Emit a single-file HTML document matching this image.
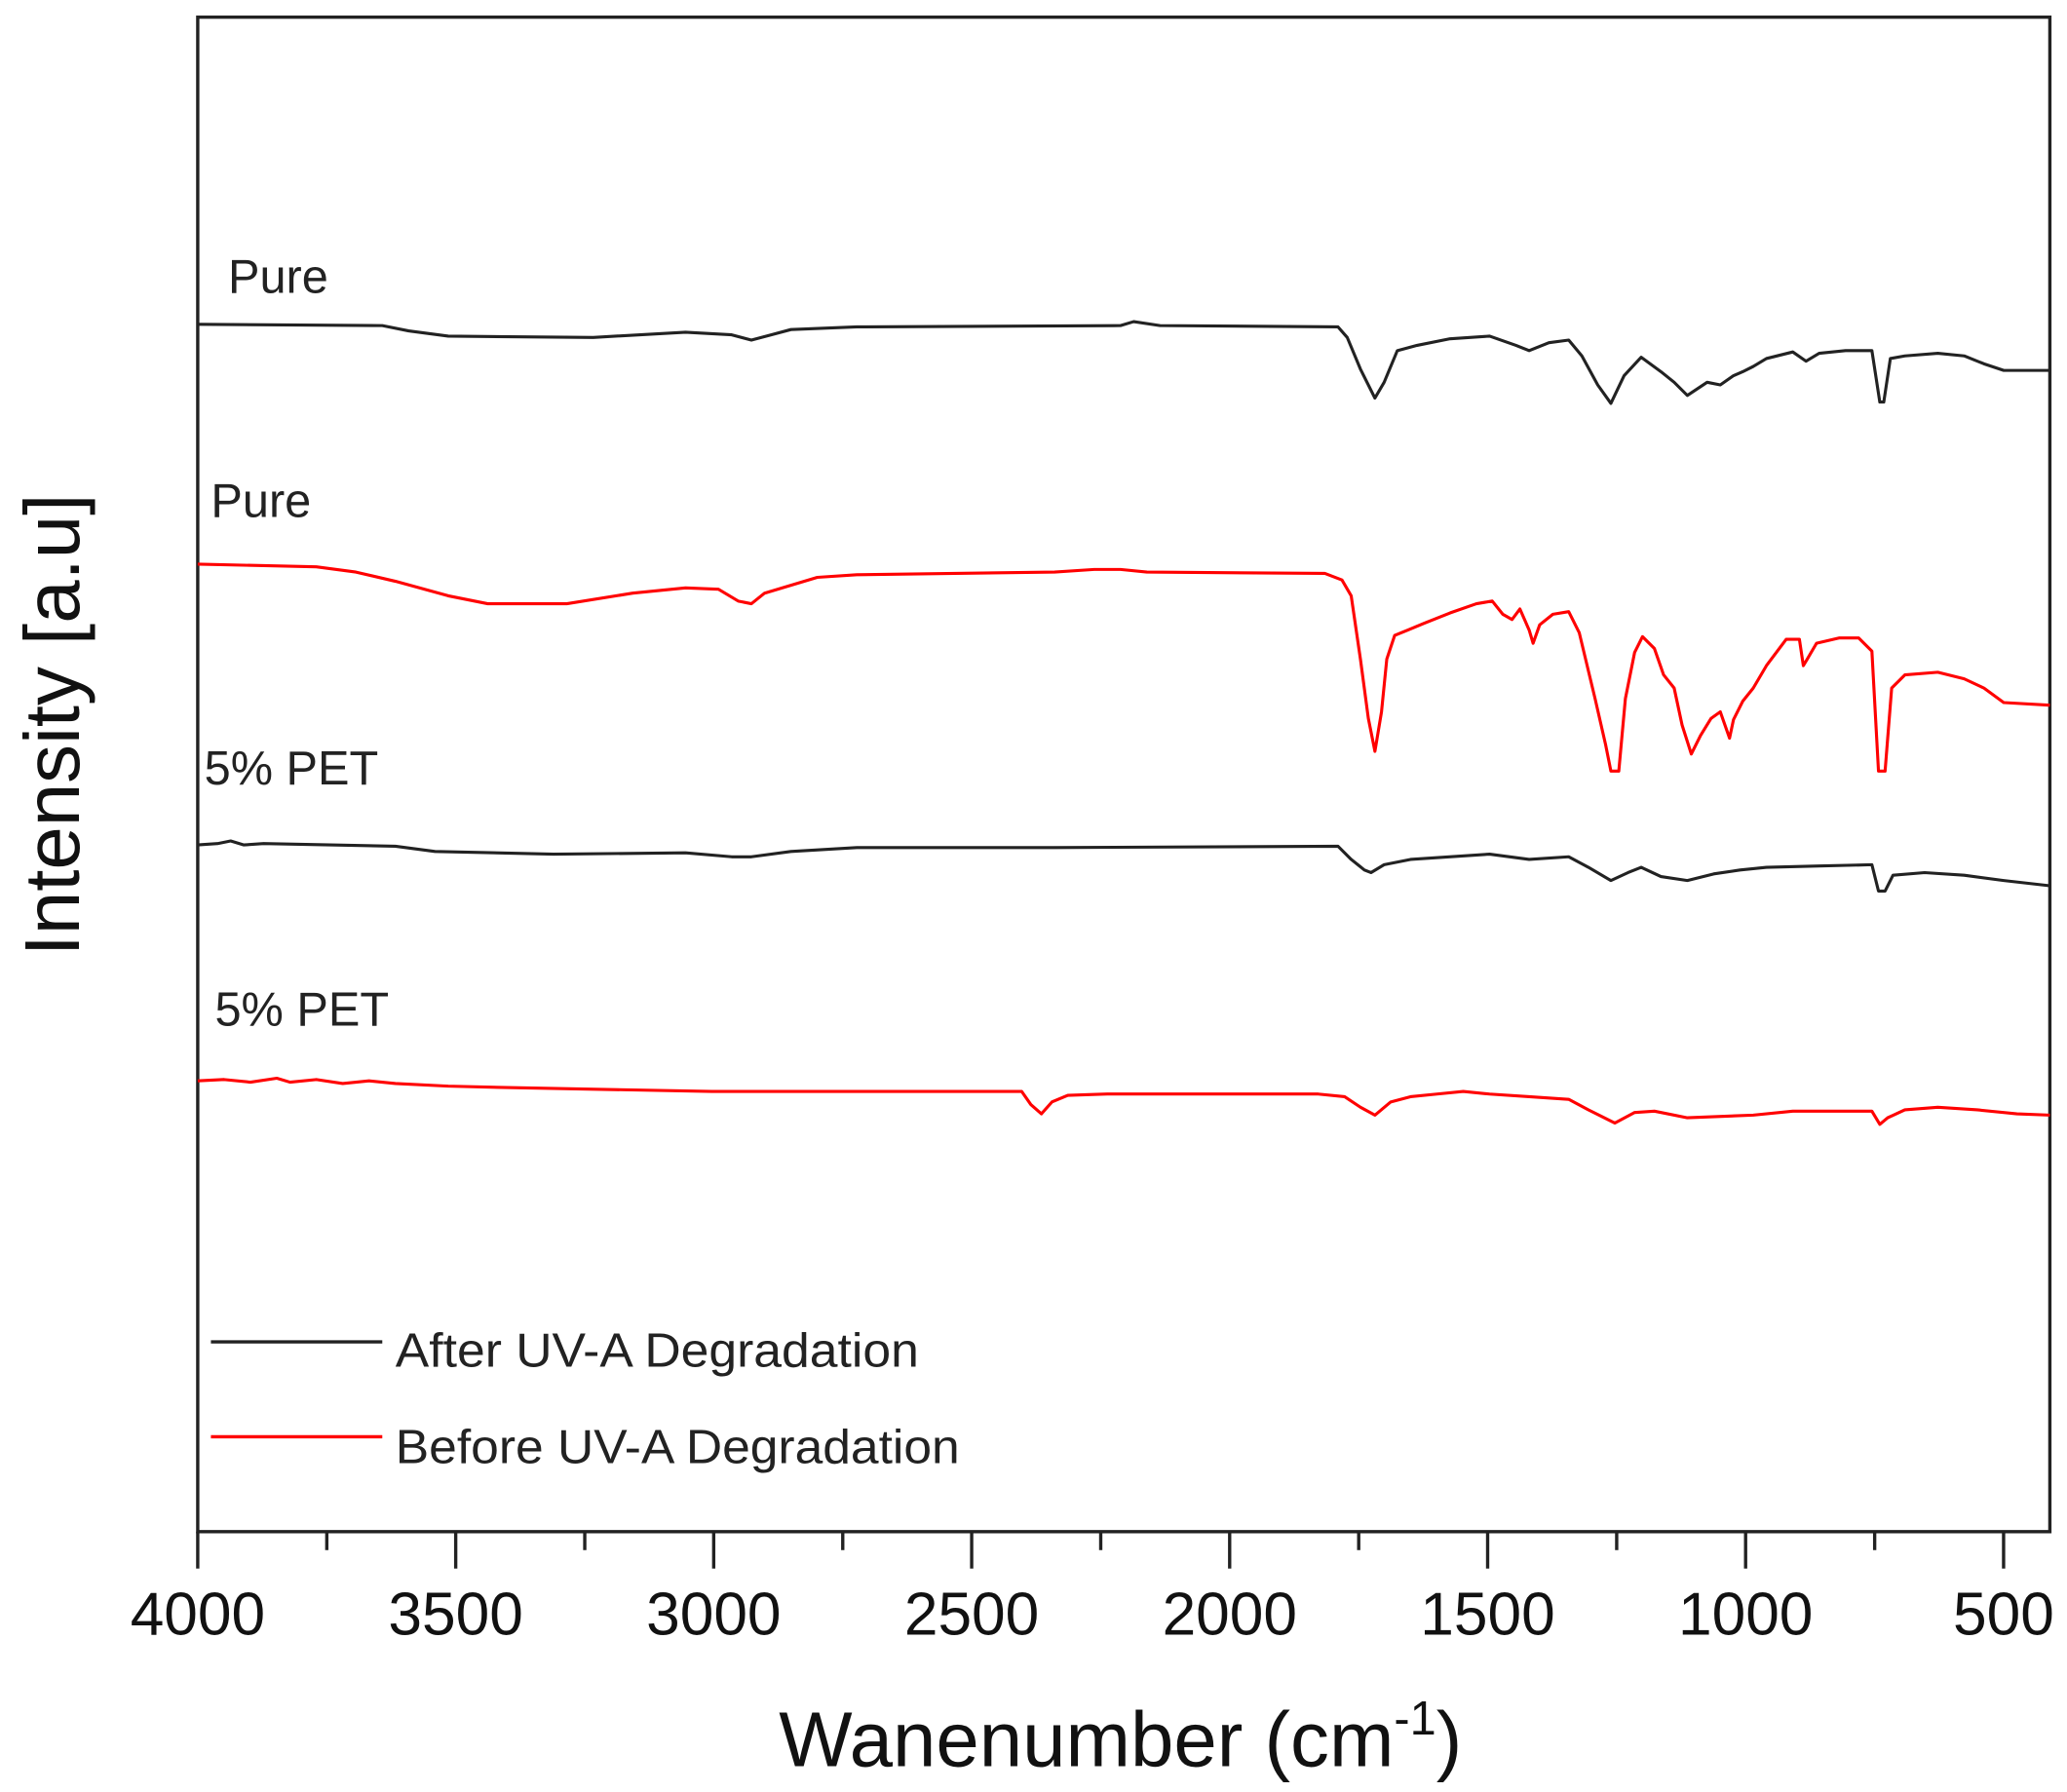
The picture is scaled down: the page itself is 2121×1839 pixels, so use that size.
<!DOCTYPE html>
<html><head><meta charset="utf-8"><style>html,body{margin:0;padding:0;background:#fff}svg{display:block}</style></head>
<body>
<svg width="2121" height="1839" viewBox="0 0 1568 1359.5" xmlns="http://www.w3.org/2000/svg" font-family="Liberation Sans, Arial, sans-serif">
<rect width="1568" height="1360" fill="#fff"/>
<rect x="150" y="13" width="1405" height="1149" fill="none" stroke="#222" stroke-width="2.5"/>
<g stroke="#222" stroke-width="2.5">
<line x1="150" y1="1162" x2="150" y2="1190"/><line x1="345.7" y1="1162" x2="345.7" y2="1190"/><line x1="541.4" y1="1162" x2="541.4" y2="1190"/><line x1="737.1" y1="1162" x2="737.1" y2="1190"/><line x1="932.8" y1="1162" x2="932.8" y2="1190"/><line x1="1128.5" y1="1162" x2="1128.5" y2="1190"/><line x1="1324.2" y1="1162" x2="1324.2" y2="1190"/><line x1="1519.9" y1="1162" x2="1519.9" y2="1190"/>
<line x1="247.9" y1="1162" x2="247.9" y2="1176"/><line x1="443.6" y1="1162" x2="443.6" y2="1176"/><line x1="639.3" y1="1162" x2="639.3" y2="1176"/><line x1="835" y1="1162" x2="835" y2="1176"/><line x1="1030.7" y1="1162" x2="1030.7" y2="1176"/><line x1="1226.4" y1="1162" x2="1226.4" y2="1176"/><line x1="1422.1" y1="1162" x2="1422.1" y2="1176"/>
</g>
<g font-size="46" fill="#111" text-anchor="middle">
<text x="150" y="1240">4000</text><text x="345.7" y="1240">3500</text><text x="541.4" y="1240">3000</text><text x="737.1" y="1240">2500</text><text x="932.8" y="1240">2000</text><text x="1128.5" y="1240">1500</text><text x="1324.2" y="1240">1000</text><text x="1519.9" y="1240">500</text>
</g>
<text x="850" y="1340" font-size="59" text-anchor="middle" fill="#111">Wanenumber (cm<tspan font-size="36" dy="-24">-1</tspan><tspan dy="24">)</tspan></text>
<text transform="translate(60,550) rotate(-90)" font-size="59" text-anchor="middle" fill="#111">Intensity [a.u]</text>
<g font-size="36" fill="#222">
<text x="173" y="222">Pure</text><text x="160" y="392">Pure</text><text x="155" y="595">5% PET</text><text x="163" y="778">5% PET</text>
<text x="300" y="1037" textLength="397" lengthAdjust="spacingAndGlyphs">After UV-A Degradation</text><text x="300" y="1110" textLength="428" lengthAdjust="spacingAndGlyphs">Before UV-A Degradation</text>
</g>
<line x1="160" y1="1018" x2="290" y2="1018" stroke="#222" stroke-width="2.5"/>
<line x1="160" y1="1090" x2="290" y2="1090" stroke="#f00" stroke-width="2.5"/>
<g fill="none" stroke-width="2.3" stroke-linejoin="round">
<polyline stroke="#222" points="150,246 290,247 310,251 340,255 450,256 520,252 555,254 570,258 585,254 600,250 650,248 850,247 860,244 880,247 1015,248 1022,256 1032,280 1043,302 1050,290 1060,266 1075,262 1100,257 1130,255 1150,262 1160,266 1175,260 1190,258 1200,270 1212,292 1222,306 1232,285 1245,271 1260,282 1270,290 1280,300 1295,290 1305,292 1315,285 1322,282 1330,278 1340,272 1360,267 1370,274 1380,268 1400,266 1420,266 1426,305 1429,305 1434,272 1445,270 1470,268 1490,270 1505,276 1520,281 1555,281"/>
<polyline stroke="#f00" points="150,428 240,430 270,434 300,441 340,452 370,458 430,458 480,450 520,446 545,447 560,456 570,458 580,450 600,444 620,438 650,436 800,434 830,432 850,432 870,434 1005,435 1018,440 1025,452 1032,500 1038,545 1043,570 1048,540 1052,500 1058,482 1068,478 1080,473 1100,465 1120,458 1132,456 1140,466 1147,470 1153,462 1160,478 1163,488 1168,474 1178,466 1190,464 1198,480 1210,530 1218,565 1222,585 1228,585 1233,530 1240,495 1246,483 1255,492 1262,512 1270,522 1276,550 1283,572 1290,558 1298,545 1305,540 1312,560 1315,546 1322,532 1330,522 1340,505 1355,485 1365,485 1368,505 1371,500 1378,488 1395,484 1410,484 1420,494 1425,585 1430,585 1435,522 1445,512 1470,510 1490,515 1505,522 1520,533 1555,535"/>
<polyline stroke="#222" points="150,641 165,640 175,638 185,641 200,640 300,642 330,646 420,648 520,647 555,650 570,650 600,646 650,643 800,643 1015,642 1025,652 1035,660 1040,662 1050,656 1070,652 1130,648 1160,652 1190,650 1205,658 1222,668 1235,662 1245,658 1260,665 1280,668 1300,663 1320,660 1340,658 1380,657 1420,656 1425,676 1430,676 1436,664 1460,662 1490,664 1520,668 1555,672"/>
<polyline stroke="#f00" points="150,820 170,819 190,821 210,818 220,821 240,819 260,822 280,820 300,822 340,824 380,825 540,828 775,828 782,838 790,845 798,836 810,831 840,830 880,830 1000,830 1020,832 1032,840 1043,846 1055,836 1070,832 1090,830 1110,828 1130,830 1160,832 1190,834 1205,842 1225,852 1240,844 1255,843 1280,848 1330,846 1360,843 1400,843 1420,843 1426,853 1432,848 1445,842 1470,840 1500,842 1530,845 1555,846"/>
</g>
</svg>
</body></html>
